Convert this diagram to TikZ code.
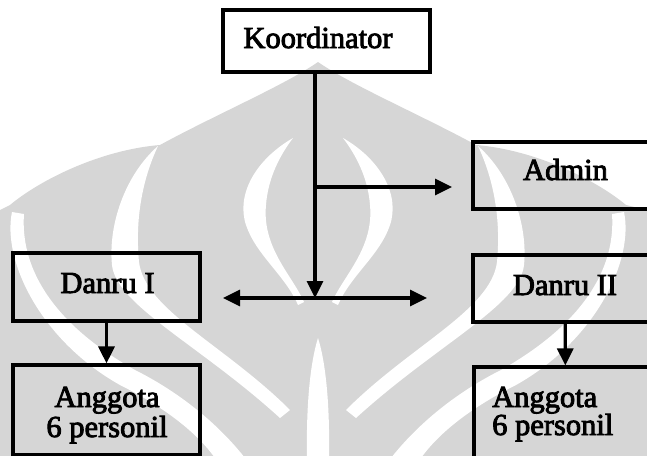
\documentclass[tikz,border=0pt]{standalone}
\usepackage{fontspec}
\newfontfamily\diagfont{Liberation Serif}
\usetikzlibrary{arrows.meta}
\definecolor{wmgray}{RGB}{214,214,214}

% heavier type: fill and stroke the glyph outlines
\newcommand\heavy[1]{\special{pdf:literal direct 2 Tr 0.9 w}#1\special{pdf:literal direct 0 Tr}}

% white gaps of the background emblem (left half; mirrored for the right half)
\newcommand\emblemgaps{%
  % gap between central flame and dome
  \fill[white] (293,138) .. controls (255,160) and (236,195) .. (246,225)
     .. controls (256,255) and (285,275) .. (298,305) -- (304,302)
     .. controls (292,275) and (262,248) .. (266,205)
     .. controls (268,178) and (280,155) .. (293,138) -- cycle;
  % gap between dome and outer flame
  \fill[white] (158,146) .. controls (125,175) and (108,225) .. (112,265)
     .. controls (116,305) and (200,345) .. (280,418) -- (290,410)
     .. controls (225,345) and (145,310) .. (139,262)
     .. controls (135,220) and (142,180) .. (158,146) -- cycle;
  % outermost gap
  \fill[white] (12,212) .. controls (2,260) and (40,340) .. (120,385)
     .. controls (160,405) and (195,430) .. (215,458) -- (245,458)
     .. controls (215,420) and (175,390) .. (135,370)
     .. controls (55,325) and (20,270) .. (24,214) -- cycle;
}

\begin{document}
\begin{tikzpicture}[x=1pt,y=-1pt,
  box/.style={draw=black,line width=3.2pt,inner sep=0pt,rectangle},
  lbl/.style={font=\diagfont\fontsize{30.5}{30}\selectfont,inner sep=0pt,anchor=base},
  conn/.style={line width=3.2pt,-{Triangle[length=17pt,width=16pt]}},
  both/.style={line width=3.2pt,{Triangle[length=17pt,width=16pt]}-{Triangle[length=17pt,width=16pt]}}]
\useasboundingbox (0,0) rectangle (647,455);
\fill[white] (0,0) rectangle (647,455);

% background emblem
\begin{scope}
  \clip (0,0) rectangle (647,455);
  \fill[wmgray] (318,62) .. controls (285,85) and (215,115) .. (160,145)
     .. controls (100,150) and (40,180) .. (10,205) -- (0,210) -- (0,460)
     -- (647,460) -- (647,210) -- (626,205)
     .. controls (596,180) and (536,150) .. (476,145)
     .. controls (421,115) and (351,85) .. (318,62) -- cycle;
  \emblemgaps
  \begin{scope}[shift={(636,0)},xscale=-1]
    \emblemgaps
  \end{scope}
  % central teardrop
  \fill[white] (318,338) .. controls (311,360) and (306,400) .. (307,458)
     -- (329,458) .. controls (330,400) and (325,360) .. (318,338) -- cycle;
\end{scope}

% boxes
\node[box,minimum width=207pt,minimum height=62pt] (koord) at (326.5,41) {};
\node[box,minimum width=184pt,minimum height=67pt] (admin) at (565,175.5) {};
\node[box,minimum width=187pt,minimum height=68pt] (danru1) at (106.5,287) {};
\node[box,minimum width=184pt,minimum height=67pt] (danru2) at (565,288.5) {};
\node[box,minimum width=187pt,minimum height=90pt] (ang1) at (106.5,410) {};
\node[box,minimum width=183pt,minimum height=95pt] (ang2) at (565.5,414.5) {};

% labels
\node[lbl] (tkoord) at (318,48) {\heavy{Koordinator}};
\node[lbl] (tadmin) at (565.5,180) {\heavy{Admin}};
\node[lbl] (tdanru1) at (107.5,293) {\heavy{Danru I}};
\node[lbl] (tdanru2) at (565,295) {\heavy{Danru II}};
\node[lbl] (tang1a) at (107,407) {\heavy{Anggota}};
\node[lbl] (tang1b) at (107,437) {\heavy{6 personil}};
\node[lbl,anchor=base west] (tang2a) at (492,407) {\heavy{Anggota}};
\node[lbl,anchor=base west] (tang2b) at (492,435) {\heavy{6 personil}};

% connectors
\coordinate (hub) at (315,298);
\coordinate (split) at (315,187);
\coordinate (admintip) at (452,187);
\coordinate (lefttip) at (223,298);
\coordinate (righttip) at (427,298);
\draw[line width=3.2pt] (koord.south -| hub) -- (split);
\draw[conn] (split) -- (hub);
\draw[conn] (split) -- (admintip);
\draw[both] (lefttip) -- (righttip);
\draw[conn] (danru1) -- (ang1);
\draw[conn] (danru2) -- (ang2);
\end{tikzpicture}
\end{document}
